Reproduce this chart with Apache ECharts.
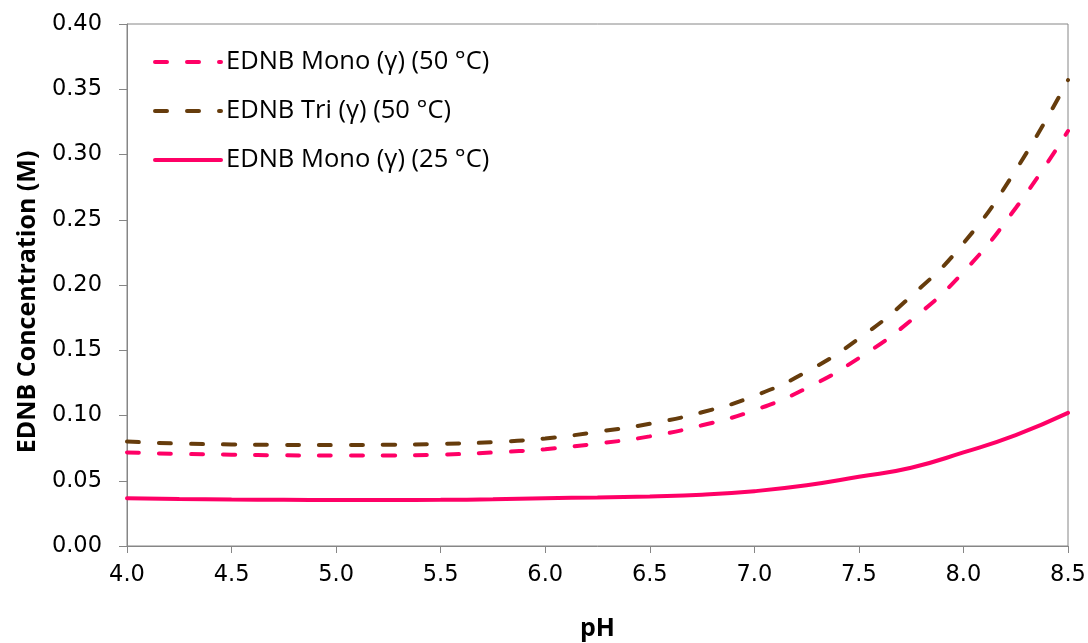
<!DOCTYPE html>
<html>
<head>
<meta charset="utf-8">
<script src="https://cdn.jsdelivr.net/npm/echarts@6/dist/echarts.min.js"></script>
<style>
  html, body { margin: 0; padding: 0; background: #fff; }
  #chart { width: 1088px; height: 643px; }
</style>
</head>
<body>
<div id="chart"></div>
<script>
// pH sample points
const phValues = [4.0, 4.25, 4.5, 4.75, 5.0, 5.25, 5.5, 5.75, 6.0, 6.25, 6.5, 6.75, 7.0, 7.25, 7.5, 7.75, 8.0, 8.25, 8.5];

// EDNB concentrations (M)
const mono50 = [0.0717, 0.0706, 0.0700, 0.0695, 0.0693, 0.0694, 0.0700, 0.0717, 0.0742, 0.0785, 0.0840, 0.0925, 0.1040, 0.1210, 0.1440, 0.1730, 0.2100, 0.2590, 0.3180];
const tri50 = [0.0800, 0.0785, 0.0778, 0.0775, 0.0773, 0.0776, 0.0783, 0.0796, 0.0824, 0.0875, 0.0937, 0.1025, 0.1150, 0.1335, 0.1590, 0.1915, 0.2320, 0.2880, 0.3570];
const mono25 = [0.0366, 0.0360, 0.0356, 0.0354, 0.0353, 0.0353, 0.0354, 0.0358, 0.0366, 0.0372, 0.0380, 0.0393, 0.0420, 0.0465, 0.0530, 0.0600, 0.0717, 0.0850, 0.1020];

const seriesNames = ['EDNB Mono (\u03b3) (50 \u00b0C)', 'EDNB Tri (\u03b3) (50 \u00b0C)', 'EDNB Mono (\u03b3) (25 \u00b0C)'];

const PINK = '#FF0066';
const BROWN = '#663C0C';
const AXIS_GRAY = '#868686';
const FONT = '"Open Sans", "Noto Sans", sans-serif';
const TICK_FONT = '"DejaVu Sans", sans-serif';
const DASH = [12, 20];

const pairs = ys => phValues.map((x, i) => [x, ys[i]]);

const chart = echarts.init(document.getElementById('chart'), null, { renderer: 'canvas' });

chart.setOption({
  animation: false,
  backgroundColor: '#fff',
  grid: {
    left: 127, right: 20, top: 24, bottom: 97,
    outerBoundsMode: 'none', containLabel: false,
    show: true, borderColor: AXIS_GRAY, borderWidth: 1, backgroundColor: 'transparent'
  },
  legend: {
    orient: 'vertical',
    left: 148, top: 44,
    itemWidth: 66, itemHeight: 14, itemGap: 23,
    itemStyle: { opacity: 0 },
    lineStyle: { width: 4 },
    textStyle: { fontFamily: FONT, fontSize: 25.5, color: '#000' },
    data: seriesNames
  },
  xAxis: {
    type: 'value', min: 4, max: 8.5, interval: 0.5,
    name: 'pH', nameLocation: 'middle', nameGap: 70,
    nameTextStyle: { fontFamily: FONT, fontSize: 25, fontWeight: 'bold', color: '#000' },
    axisLine: { show: true, lineStyle: { color: AXIS_GRAY, width: 1 } },
    axisTick: { show: true, inside: false, length: 7, lineStyle: { color: AXIS_GRAY } },
    axisLabel: { fontFamily: TICK_FONT, fontSize: 22.5, color: '#000', margin: 18, formatter: v => v.toFixed(1) },
    splitLine: { show: false }
  },
  yAxis: {
    type: 'value', min: 0, max: 0.4, interval: 0.05,
    name: 'EDNB Concentration (M)', nameLocation: 'middle', nameGap: 87,
    nameTextStyle: { fontFamily: FONT, fontSize: 25, fontWeight: 'bold', color: '#000', padding: [0, 34, 0, 0] },
    axisLine: { show: true, lineStyle: { color: AXIS_GRAY, width: 1 } },
    axisTick: { show: true, inside: false, length: 8, lineStyle: { color: AXIS_GRAY } },
    axisLabel: { fontFamily: TICK_FONT, fontSize: 22.5, color: '#000', margin: 25, formatter: v => v.toFixed(2) },
    splitLine: { show: false }
  },
  series: [
    {
      name: seriesNames[0], type: 'line', smooth: true, showSymbol: false, symbol: 'none',
      data: pairs(mono50),
      lineStyle: { color: PINK, width: 4, type: DASH, cap: 'round' },
      itemStyle: { color: PINK }
    },
    {
      name: seriesNames[1], type: 'line', smooth: true, showSymbol: false, symbol: 'none',
      data: pairs(tri50),
      lineStyle: { color: BROWN, width: 4, type: DASH, cap: 'round' },
      itemStyle: { color: BROWN }
    },
    {
      name: seriesNames[2], type: 'line', smooth: true, showSymbol: false, symbol: 'none',
      data: pairs(mono25),
      lineStyle: { color: PINK, width: 4, type: 'solid', cap: 'round' },
      itemStyle: { color: PINK }
    }
  ]
});
</script>
</body>
</html>
